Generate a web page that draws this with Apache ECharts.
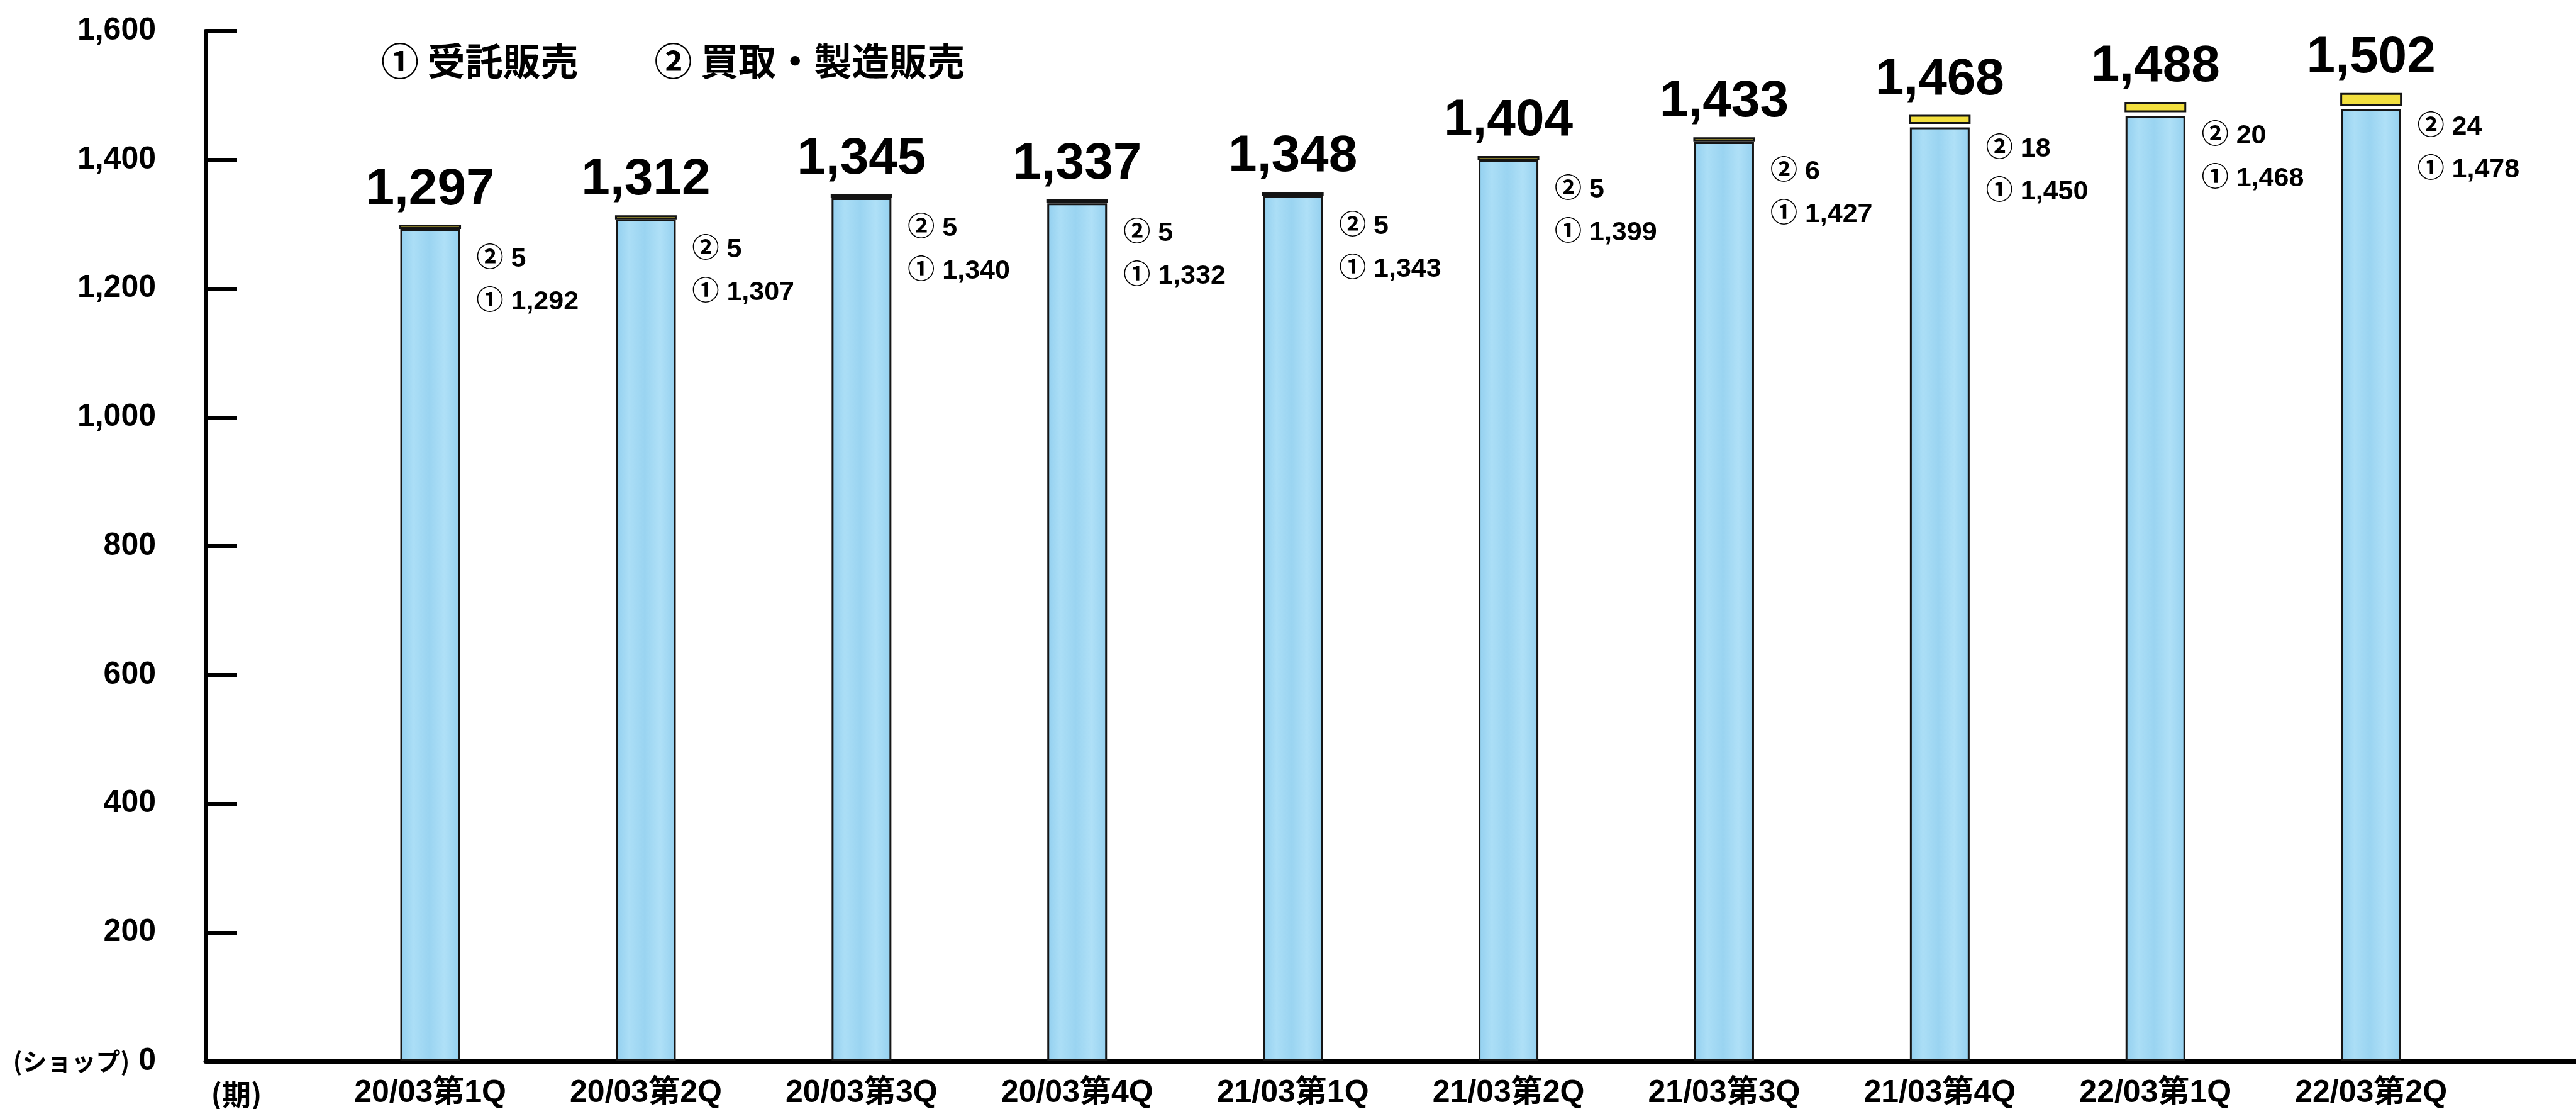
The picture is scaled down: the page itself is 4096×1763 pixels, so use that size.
<!DOCTYPE html>
<html lang="ja">
<head>
<meta charset="utf-8">
<title>ショップ数推移</title>
<script src="https://cdn.jsdelivr.net/npm/echarts@6/dist/echarts.min.js"></script>
<style>
  html, body { margin: 0; padding: 0; background: #ffffff; }
  #chart { width: 4096px; height: 1763px; }
</style>
</head>
<body>
<div id="chart"></div>
<script>
// Quarterly shop counts, split by sales type
const categories = ['20/03第1Q', '20/03第2Q', '20/03第3Q', '20/03第4Q', '21/03第1Q',
                    '21/03第2Q', '21/03第3Q', '21/03第4Q', '22/03第1Q', '22/03第2Q'];
const consignment = [1292, 1307, 1340, 1332, 1343, 1399, 1427, 1450, 1468, 1478]; // ① 受託販売
const purchase    = [5, 5, 5, 5, 5, 5, 6, 18, 20, 24];                             // ② 買取・製造販売
const seriesNames = ['① 受託販売', '② 買取・製造販売'];
const yMin = 0, yMax = 1600, yStep = 200;

const NUM_FONT = '"Liberation Sans", "Noto Sans CJK JP", sans-serif';
const JP_FONT = '"Noto Sans CJK JP", "Liberation Sans", sans-serif';
const BAR_W = 95;
const CAP_GAP = 7;

const fmt = v => v.toLocaleString('en-US');

const chart = echarts.init(document.getElementById('chart'), null, { renderer: 'canvas' });

// soft watercolour-like blue across the bar width
const blueFill = new echarts.graphic.LinearGradient(0, 0, 1, 0, [
  { offset: 0.00, color: '#92cfef' },
  { offset: 0.22, color: '#abdef6' },
  { offset: 0.48, color: '#9ad4f1' },
  { offset: 0.74, color: '#afe0f7' },
  { offset: 1.00, color: '#94d0ef' }
]);

// Yellow cap stacked on the blue bar, plus the value labels around it
function renderCap(params, api) {
  const i = api.value(0);
  const v1 = api.value(1);
  const v2 = api.value(2);
  const top = api.coord([i, v1 + v2]);
  const base = api.coord([i, v1]);
  const half = BAR_W / 2;
  const capBottom = Math.max(base[1] - CAP_GAP, top[1] + 3.5);
  const labelX = top[0] + half + 26;
  return {
    type: 'group',
    children: [
      {
        type: 'rect',
        shape: { x: top[0] - half, y: top[1], width: BAR_W, height: capBottom - top[1] },
        style: { fill: '#f2df3e', stroke: '#141414', lineWidth: 3 }
      },
      {
        type: 'text',
        x: top[0], y: top[1] - 57,
        style: {
          text: fmt(v1 + v2), fill: '#000', fontSize: 82, fontWeight: 'bold',
          fontFamily: NUM_FONT, align: 'center', verticalAlign: 'middle'
        }
      },
      {
        type: 'text',
        x: labelX, y: top[1] + 53,
        style: {
          text: '② ' + fmt(v2), fill: '#000', fontSize: 43, fontWeight: 'bold',
          fontFamily: NUM_FONT, align: 'left', verticalAlign: 'middle'
        }
      },
      {
        type: 'text',
        x: labelX, y: top[1] + 121,
        style: {
          text: '① ' + fmt(v1), fill: '#000', fontSize: 43, fontWeight: 'bold',
          fontFamily: NUM_FONT, align: 'left', verticalAlign: 'middle'
        }
      }
    ]
  };
}

const option = {
  backgroundColor: '#ffffff',
  animation: false,
  legend: {
    data: seriesNames,
    left: 596,
    top: 62,
    icon: 'none',
    itemWidth: 0,
    itemHeight: 0,
    itemGap: 116,
    selectedMode: false,
    textStyle: { fontSize: 60, fontWeight: 'bold', color: '#000', fontFamily: JP_FONT }
  },
  grid: [
    { left: 512.6, right: 154.4, top: 49, bottom: 76 },
    { left: 327, right: 0, top: 49, bottom: 76 }
  ],
  xAxis: [
    {
      gridIndex: 0,
      type: 'category',
      data: categories,
      axisLine: { show: false },
      axisTick: { show: false },
      axisLabel: {
        margin: 27, fontSize: 50, fontWeight: 'bold', color: '#000', fontFamily: NUM_FONT
      }
    },
    {
      gridIndex: 1,
      type: 'value',
      min: 0, max: 1,
      axisLine: { show: true, lineStyle: { color: '#000', width: 7 } },
      axisTick: { show: false },
      axisLabel: { show: false },
      splitLine: { show: false }
    }
  ],
  yAxis: [
    { gridIndex: 0, type: 'value', min: yMin, max: yMax, interval: yStep, show: false },
    {
      gridIndex: 1,
      type: 'value',
      min: yMin, max: yMax, interval: yStep,
      axisLine: { show: true, lineStyle: { color: '#000', width: 6 } },
      axisTick: { show: true, inside: true, length: 50, lineStyle: { color: '#000', width: 6 } },
      splitLine: { show: false },
      axisLabel: {
        margin: 79, fontSize: 50, fontWeight: 'bold', color: '#000', fontFamily: NUM_FONT,
        formatter: v => v === 0 ? '{u|(ショップ)} 0' : fmt(v),
        rich: {
          u: { fontSize: 39, fontWeight: 'bold', color: '#000', fontFamily: JP_FONT }
        }
      }
    }
  ],
  graphic: [
    {
      type: 'text',
      x: 376, y: 1740,
      style: {
        text: '(期)', fill: '#000', fontSize: 46, fontWeight: 'bold',
        fontFamily: JP_FONT, align: 'center', verticalAlign: 'middle'
      }
    }
  ],
  series: [
    {
      name: seriesNames[0],
      type: 'bar',
      xAxisIndex: 0,
      yAxisIndex: 0,
      data: consignment,
      barWidth: BAR_W,
      z: 2,
      itemStyle: { color: blueFill, borderColor: '#151515', borderWidth: 3 }
    },
    {
      name: seriesNames[1],
      type: 'custom',
      xAxisIndex: 0,
      yAxisIndex: 0,
      z: 3,
      data: categories.map((c, i) => [i, consignment[i], purchase[i]]),
      encode: { x: 0, y: [1, 2] },
      itemStyle: { color: '#f2df3e' },
      renderItem: renderCap
    }
  ]
};

chart.setOption(option);
</script>
</body>
</html>
